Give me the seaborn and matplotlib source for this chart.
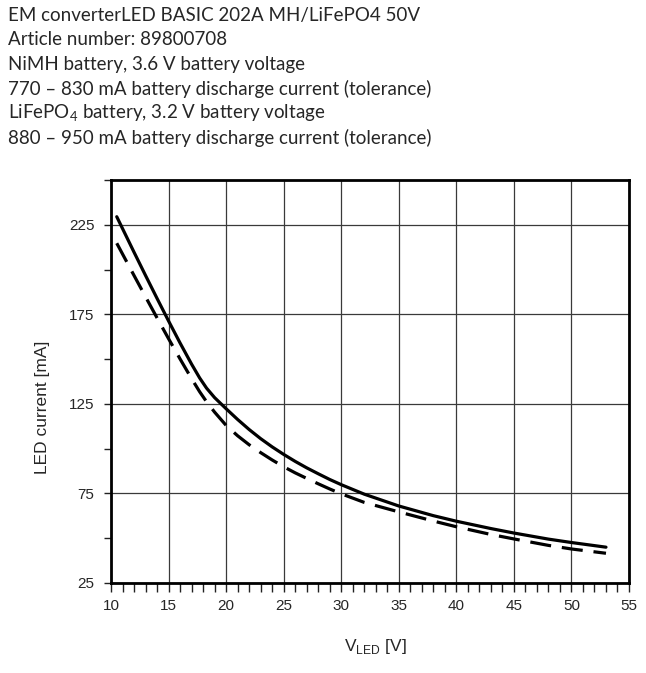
import matplotlib
matplotlib.use("Agg")
import matplotlib.pyplot as plt
from matplotlib.ticker import MultipleLocator
import pandas as pd
import seaborn as sns

# ---------------------------
# data
# ---------------------------

header_lines = [
    "EM converterLED BASIC 202A MH/LiFePO4 50V",
    "Article number: 89800708",
    "NiMH battery, 3.6 V battery voltage",
    "770 \u2013 830 mA battery discharge current (tolerance)",
    "LiFePO$_\\mathregular{4}$ battery, 3.2 V battery voltage",
    "880 \u2013 950 mA battery discharge current (tolerance)",
]

# NiMH, solid line
v_nimh = [10.5, 12, 13, 14, 15, 16, 17, 17.7, 18.3, 19, 20, 21, 22, 23, 24,
          25, 26, 27, 28, 29, 30, 32, 35, 38, 40, 43, 45, 48, 50, 53]
i_nimh = [229.5, 209.7, 196.7, 183.9, 171.3, 159, 147.2, 139.5, 133.8, 128.5, 122.3, 116.3, 110.7, 105.6, 101.0,
          96.8, 92.9, 89.3, 86.0, 82.8, 79.9, 74.6, 68.0, 62.6, 59.5, 55.4, 52.9, 49.5, 47.6, 45]

# LiFePO4, dashed line
v_lifepo = [10.5, 12, 13, 14, 15, 16, 17, 17.7, 18.3, 19, 20, 21, 22, 23, 24,
            25, 26, 27, 28, 29, 30, 32, 35, 38, 40, 43, 45, 48, 50, 53]
i_lifepo = [214.7, 196.7, 184.8, 173, 161.4, 150.1, 139.1, 131.8, 126.2, 120.4, 113, 107.2, 102.2, 97.8, 93.7,
            89.9, 86.5, 83.4, 80.4, 77.5, 74.8, 70, 64.7, 59.6, 56.4, 52.1, 49.6, 46, 44, 41.6]

x_ticks = [10, 15, 20, 25, 30, 35, 40, 45, 50, 55]
y_ticks = [25, 75, 125, 175, 225]

df = pd.concat([
    pd.DataFrame({"V": v_nimh, "I": i_nimh, "battery": "NiMH"}),
    pd.DataFrame({"V": v_lifepo, "I": i_lifepo, "battery": "LiFePO4"}),
], ignore_index=True)

# ---------------------------
# style
# ---------------------------

sns.set_style("white")
plt.rcParams["font.family"] = ["Liberation Sans", "DejaVu Sans"]

fig = plt.figure(figsize=(6.46, 6.73), dpi=100)
ax = fig.add_axes([111 / 646, 1 - 583 / 673, 518 / 646, 403 / 673])

sns.lineplot(
    data=df, x="V", y="I", style="battery",
    dashes={"NiMH": "", "LiFePO4": (6.6, 3.4)},
    color="black", linewidth=2.3, legend=False,
    sort=False, estimator=None, ax=ax,
)

ax.set_xlim(10, 55)
ax.set_ylim(25, 250)
ax.set_xticks(x_ticks)
ax.set_yticks(y_ticks)
ax.xaxis.set_minor_locator(MultipleLocator(1))
ax.set_yticks([50, 100, 150, 200, 250], minor=True)

ax.grid(True, which="major", color="#3a3a3a", linewidth=0.9)
ax.grid(False, which="minor")

for s in ax.spines.values():
    s.set_color("black")
    s.set_linewidth(2.0)

ax.tick_params(axis="x", which="both", direction="out", length=6.5, width=1.0,
               color="#222222", labelsize=11, pad=5, bottom=True)
ax.tick_params(axis="y", which="both", direction="out", length=5, width=1.0,
               color="#222222", labelsize=11, pad=7, left=True)

ax.set_xlabel("")
ax.set_ylabel("")
fig.text(43 / 646, 1 - 407 / 673, "LED current [mA]", rotation=90,
         ha="center", va="center", fontsize=12.5)
fig.text(375 / 646, 1 - 646 / 673, "V$_\\mathregular{LED}$ [V]",
         ha="center", va="center", fontsize=12.5)

# header
for k, line in enumerate(header_lines):
    fig.text(8 / 646, 1 - (15 + 24.6 * k) / 673, line,
             ha="left", va="center", fontsize=13.5,
             family=["Lato", "DejaVu Sans"])

fig.savefig("out.png", dpi=100)
